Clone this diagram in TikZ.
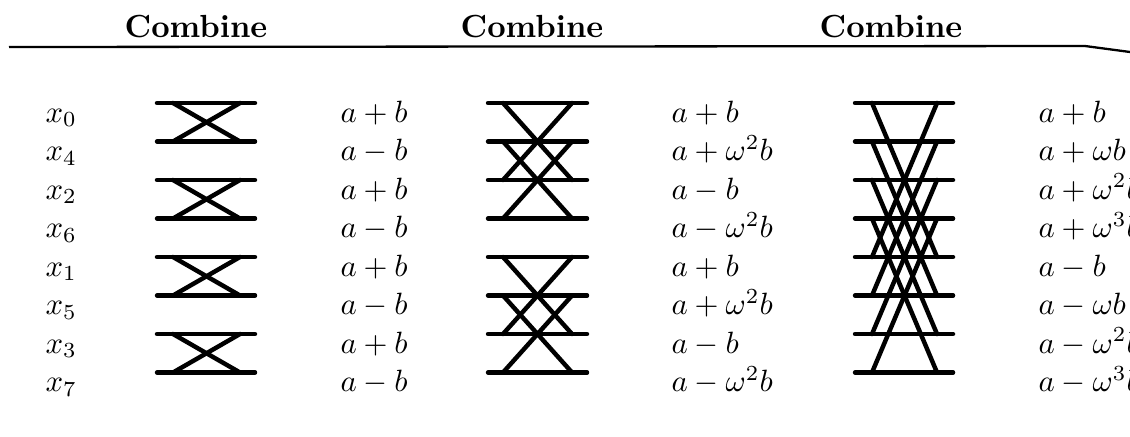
\documentclass[tikz,border=0pt]{standalone}
\usetikzlibrary{calc}
\begin{document}
\begin{tikzpicture}[x=0.325pt,y=-0.325pt,
  wire/.style={line width=1.45pt,line cap=round},
  cross/.style={line width=1.45pt,line cap=round},
  rulestyle/.style={line width=0.75pt},
  lbl/.style={anchor=base west,inner sep=0pt,font=\fontsize{10}{12}\selectfont},
  head/.style={anchor=base,inner sep=0pt,font=\fontsize{10.4}{12}\selectfont\bfseries}]
\useasboundingbox (0,0) rectangle (1130,436);
% headers
\node[head] (h1) at (196,37) {Combine};
\node[head] (h2) at (532,37) {Combine};
\node[head] (h3) at (891,37) {Combine};
% rule
\coordinate (r0) at (9,47);
\coordinate (r1) at (1085,46);
\coordinate (r2) at (1130,52);
\draw[rulestyle] (r0) -- (r1) -- (r2);
% horizontal wires
\foreach \i in {0,...,7}{
  \pgfmathsetmacro{\yy}{103+38.5*\i}
  \coordinate (a\i) at (157,\yy); \coordinate (b\i) at (255,\yy);
  \coordinate (c\i) at (488,\yy); \coordinate (d\i) at (587,\yy);
  \coordinate (e\i) at (855,\yy); \coordinate (f\i) at (953,\yy);
  \draw[wire] (a\i) -- (b\i);
  \draw[wire] (c\i) -- (d\i);
  \draw[wire] (e\i) -- (f\i);
}
% stage 1 crosses
\foreach \t/\b in {0/1,2/3,4/5,6/7}{
  \draw[cross] ($(a\t)+(16,0)$) -- ($(b\b)+(-15,0)$);
  \draw[cross] ($(b\t)+(-15,0)$) -- ($(a\b)+(16,0)$);
}
% stage 2 crosses
\foreach \t/\b in {0/2,1/3,4/6,5/7}{
  \draw[cross] ($(c\t)+(15,0)$) -- ($(d\b)+(-15,0)$);
  \draw[cross] ($(d\t)+(-15,0)$) -- ($(c\b)+(15,0)$);
}
% stage 3 crosses
\foreach \t/\b in {0/4,1/5,2/6,3/7}{
  \draw[cross] ($(e\t)+(17,0)$) -- ($(f\b)+(-16,0)$);
  \draw[cross] ($(f\t)+(-16,0)$) -- ($(e\b)+(17,0)$);
}
% input labels
\foreach \i/\s in {0/0,1/4,2/2,3/6,4/1,5/5,6/3,7/7}{
  \pgfmathsetmacro{\yy}{103+38.5*\i+19}
  \node[lbl] (x\i) at (45,\yy) {$x_{\s}$};
}
% stage 1 labels
\foreach \i/\t in {0/{a+b},1/{a-b},2/{a+b},3/{a-b},4/{a+b},5/{a-b},6/{a+b},7/{a-b}}{
  \pgfmathsetmacro{\yy}{103+38.5*\i+19}
  \node[lbl] (p\i) at (340,\yy) {$\t$};
}
% stage 2 labels
\foreach \i/\t in {0/{a+b},1/{a+\omega^2b},2/{a-b},3/{a-\omega^2b},4/{a+b},5/{a+\omega^2b},6/{a-b},7/{a-\omega^2b}}{
  \pgfmathsetmacro{\yy}{103+38.5*\i+19}
  \node[lbl] (q\i) at (671,\yy) {$\t$};
}
% stage 3 labels
\foreach \i/\t in {0/{a+b},1/{a+\omega b},2/{a+\omega^2b},3/{a+\omega^3b},4/{a-b},5/{a-\omega b},6/{a-\omega^2b},7/{a-\omega^3b}}{
  \pgfmathsetmacro{\yy}{103+38.5*\i+19}
  \node[lbl] (s\i) at (1038,\yy) {$\t$};
}
\end{tikzpicture}
\end{document}
